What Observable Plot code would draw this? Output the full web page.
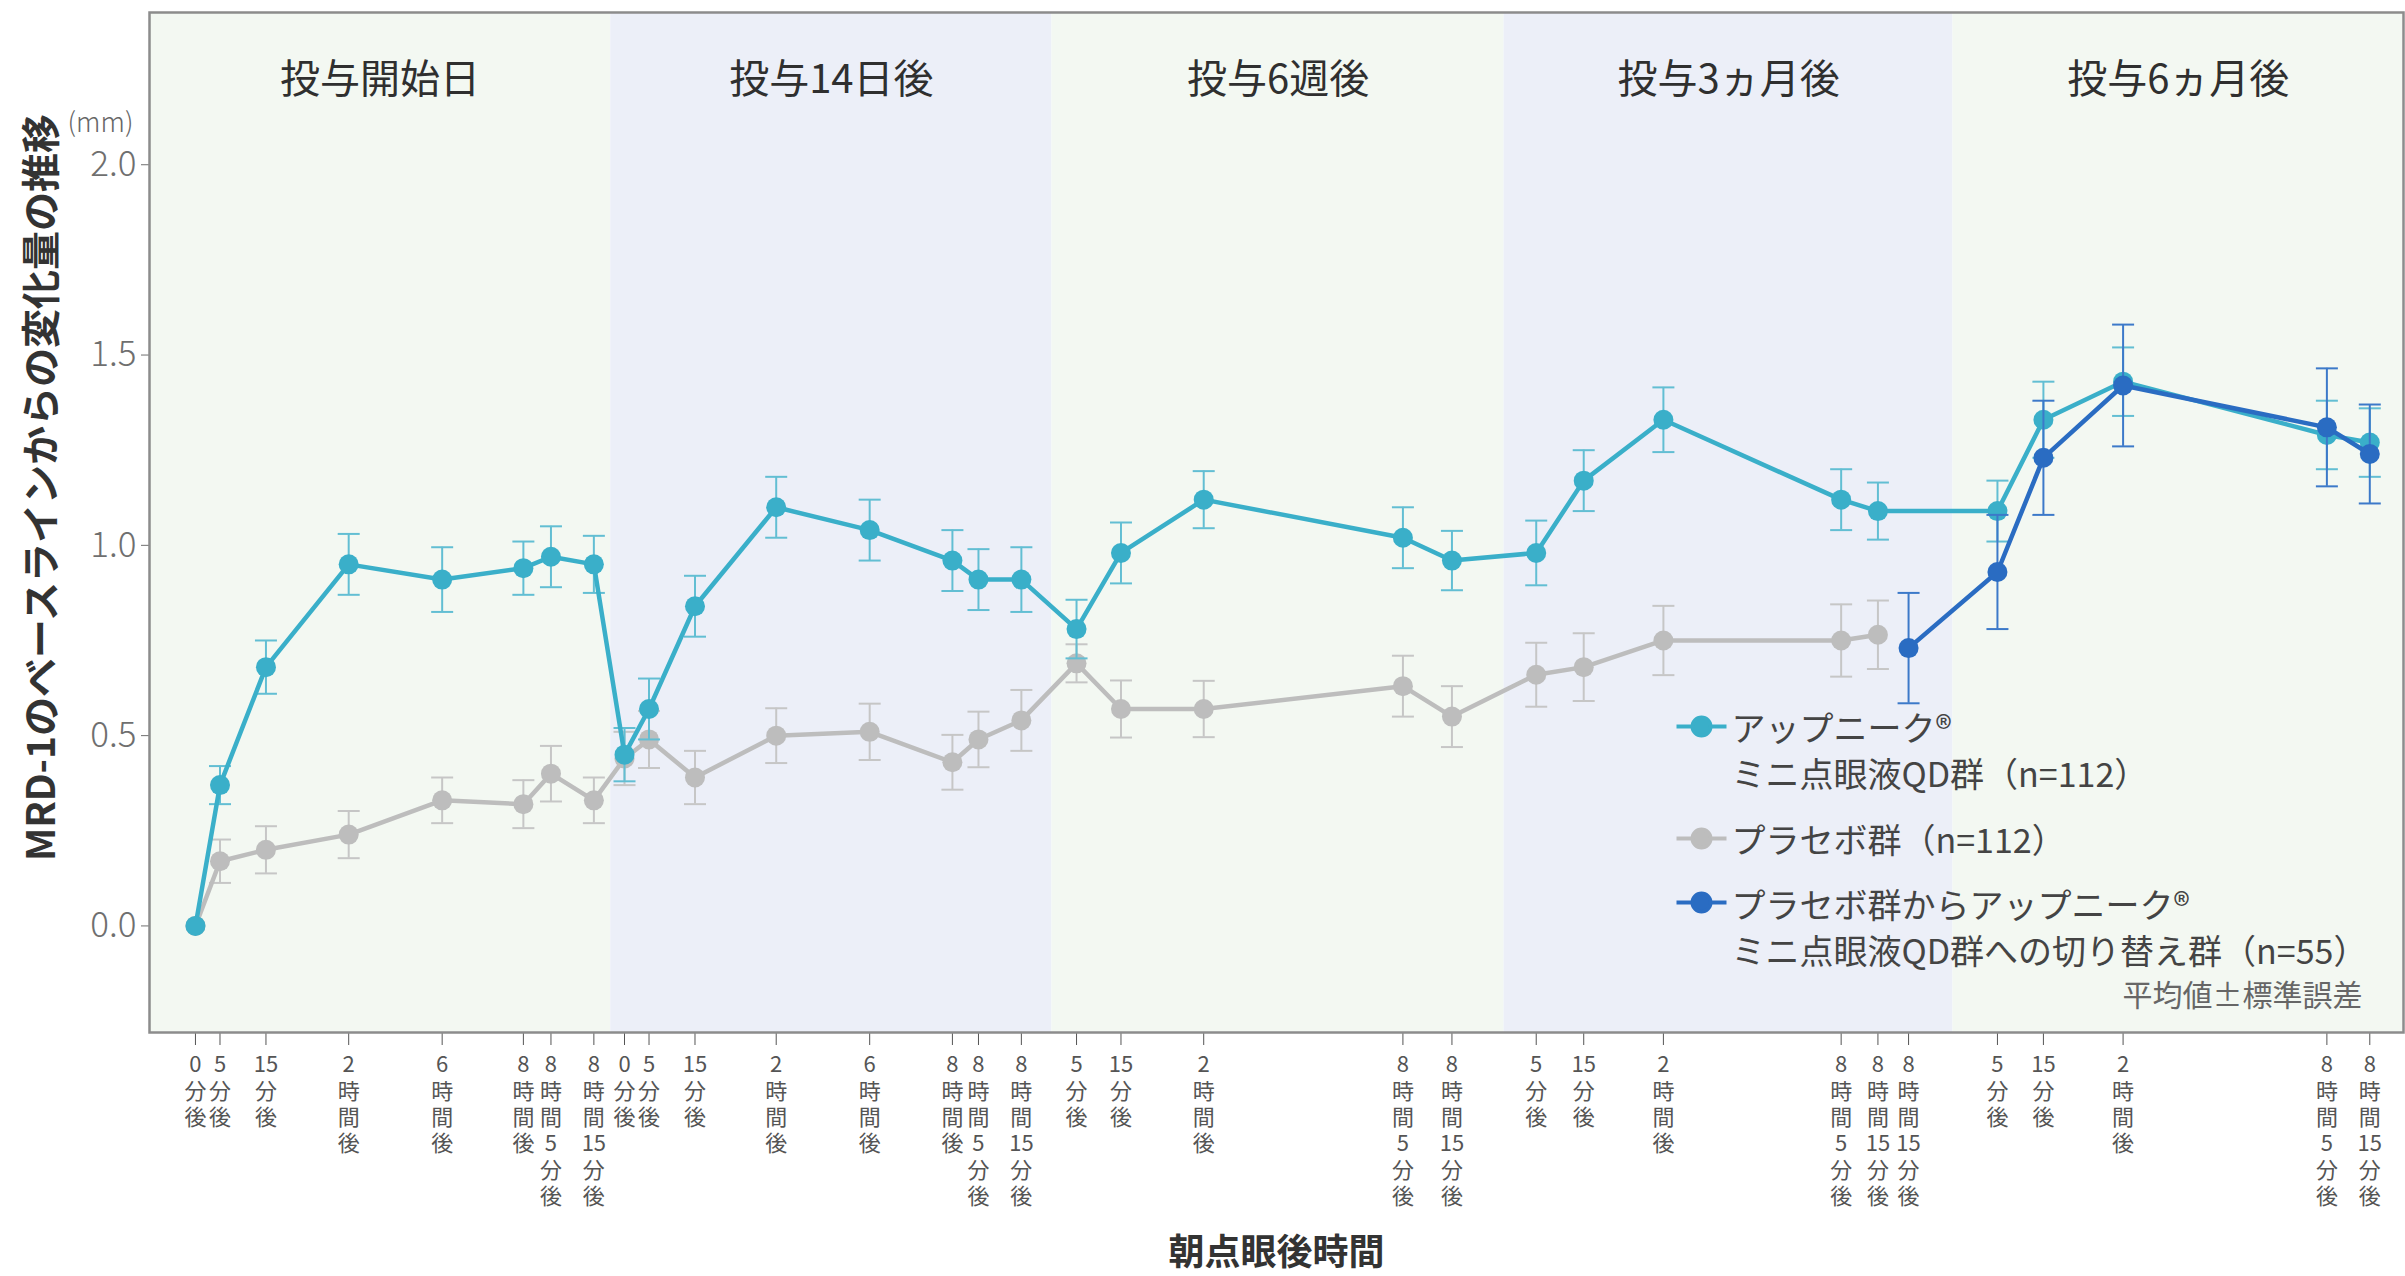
<!DOCTYPE html>
<html><head><meta charset="utf-8">
<script src="https://cdn.jsdelivr.net/npm/d3@7"></script>
<script src="https://cdn.jsdelivr.net/npm/@observablehq/plot@0.6"></script>
<style>
html,body{margin:0;padding:0;background:#fff;}
#chart svg{display:block;}
</style>
</head><body><div id="chart"></div>
<script>
// ---- phases (background bands) ----
const phaseNames = ["投与開始日", "投与14日後", "投与6週後", "投与3ヵ月後", "投与6ヵ月後"];
const phaseStart = [0, 301, 589, 884, 1177];
const phaseEnd   = [301, 589, 884, 1177, 1471];
const phaseFill  = ["#F3F8F2", "#ECEFF8", "#F3F8F2", "#ECEFF8", "#F3F8F2"];

// ---- x ticks (axis position along the time axis) ----
const tickSlots = [30, 46, 76, 130, 191, 244, 262, 290,
                   310, 326, 356, 409, 470, 524, 541, 569,
                   605, 634, 688, 818, 850,
                   905, 936, 988, 1104, 1128, 1148,
                   1206, 1236, 1288, 1421, 1449];
const tickLabels = ["0分後", "5分後", "15分後", "2時間後", "6時間後", "8時間後", "8時間5分後", "8時間15分後",
                    "0分後", "5分後", "15分後", "2時間後", "6時間後", "8時間後", "8時間5分後", "8時間15分後",
                    "5分後", "15分後", "2時間後", "8時間5分後", "8時間15分後",
                    "5分後", "15分後", "2時間後", "8時間5分後", "8時間15分後", "8時間15分後",
                    "5分後", "15分後", "2時間後", "8時間5分後", "8時間15分後"];

// ---- series: アップニーク ミニ点眼液QD群 ----
const activeSlots = [30, 46, 76, 130, 191, 244, 262, 290,
                     310, 326, 356, 409, 470, 524, 541, 569,
                     605, 634, 688, 818, 850,
                     905, 936, 988, 1104, 1128,
                     1206, 1236, 1288, 1421, 1449];
const activeMean = [0.00, 0.37, 0.68, 0.95, 0.91, 0.94, 0.97, 0.95,
                    0.45, 0.57, 0.84, 1.10, 1.04, 0.96, 0.91, 0.91,
                    0.78, 0.98, 1.12, 1.02, 0.96,
                    0.98, 1.17, 1.33, 1.12, 1.09,
                    1.09, 1.33, 1.43, 1.29, 1.27];
const activeSE = [0, 0.05, 0.07, 0.08, 0.085, 0.07, 0.08, 0.075,
                  0.07, 0.08, 0.08, 0.08, 0.08, 0.08, 0.08, 0.085,
                  0.077, 0.08, 0.075, 0.08, 0.078,
                  0.085, 0.08, 0.085, 0.08, 0.075,
                  0.08, 0.10, 0.09, 0.09, 0.09];

// ---- series: プラセボ群 ----
const placeboSlots = [30, 46, 76, 130, 191, 244, 262, 290,
                      310, 326, 356, 409, 470, 524, 541, 569,
                      605, 634, 688, 818, 850,
                      905, 936, 988, 1104, 1128];
const placeboMean = [0.00, 0.17, 0.20, 0.24, 0.33, 0.32, 0.40, 0.33,
                     0.44, 0.49, 0.39, 0.50, 0.51, 0.43, 0.49, 0.54,
                     0.69, 0.57, 0.57, 0.63, 0.55,
                     0.66, 0.68, 0.75, 0.75, 0.765];
const placeboSE = [0, 0.057, 0.062, 0.062, 0.06, 0.063, 0.073, 0.06,
                   0.07, 0.075, 0.07, 0.072, 0.074, 0.072, 0.073, 0.08,
                   0.05, 0.075, 0.074, 0.08, 0.08,
                   0.084, 0.089, 0.091, 0.095, 0.09];

// ---- series: プラセボ群からの切り替え群 ----
const switchSlots = [1148, 1206, 1236, 1288, 1421, 1449];
const switchMean  = [0.73, 0.93, 1.23, 1.42, 1.31, 1.24];
const switchSE    = [0.145, 0.15, 0.15, 0.16, 0.155, 0.13];

// ---- legend ----
const legendNames = ["アップニーク®\nミニ点眼液QD群（n=112）", "プラセボ群（n=112）", "プラセボ群からアップニーク®\nミニ点眼液QD群への切り替え群（n=55）"];
const yTicks = [0, 0.5, 1.0, 1.5, 2.0];

const COL = {
  active: "#3AAFC9", activeErr: "#62BED3",
  placebo: "#BDBDBD", placeboErr: "#C6C6C6",
  sw: "#2A6CC2", swErr: "#3C79C9"
};
const legendColors = [COL.active, COL.placebo, COL.sw];

const mk = (slots, mean, se) => slots.map((x, i) => ({x, y: mean[i], lo: mean[i] - se[i], hi: mean[i] + se[i], se: se[i]}));
const active = mk(activeSlots, activeMean, activeSE);
const placebo = mk(placeboSlots, placeboMean, placeboSE);
const sw = mk(switchSlots, switchMean, switchSE);
const phases = phaseNames.map((name, i) => ({name, x1: phaseStart[i], x2: phaseEnd[i], mid: (phaseStart[i] + phaseEnd[i]) / 2, fill: phaseFill[i]}));

const capSymbol = {draw(ctx, size) { const w = Math.sqrt(size / Math.PI); ctx.moveTo(-w, 0); ctx.lineTo(w, 0); }};
const legendSymbol = {draw(ctx, size) { ctx.moveTo(-25, 0); ctx.lineTo(-9, 0); ctx.moveTo(9, 0); ctx.lineTo(25, 0); ctx.moveTo(9, 0); ctx.arc(0, 0, 9, 0, 2 * Math.PI); }};

const stackLabel = (s) => (s.match(/\d+|./g) || []).join("\n");

function seriesMarks(data, line, err, lw) {
  const withErr = data.filter(d => d.se > 0);
  return [
    Plot.ruleX(withErr, {x: "x", y1: "lo", y2: "hi", stroke: err, strokeWidth: 2}),
    Plot.dot(withErr, {x: "x", y: "hi", symbol: capSymbol, r: 11, stroke: err, strokeWidth: 2, fill: "none"}),
    Plot.dot(withErr, {x: "x", y: "lo", symbol: capSymbol, r: 11, stroke: err, strokeWidth: 2, fill: "none"}),
    Plot.line(data, {x: "x", y: "y", stroke: line, strokeWidth: lw}),
    Plot.dot(data, {x: "x", y: "y", r: 10, fill: line})
  ];
}

// legend layout (offsets from the frame's top-left corner)
const legendMarkerDy = [714, 826, 890];
const legendTextDy = [737, 826, 914];
function legendMarks() {
  const out = [];
  legendNames.forEach((name, i) => {
    out.push(Plot.dot([name], {frameAnchor: "top-left", dx: 1552, dy: legendMarkerDy[i], symbol: legendSymbol, r: 10, fill: legendColors[i], stroke: legendColors[i], strokeWidth: 4}));
    out.push(Plot.text([name], {frameAnchor: "top-left", dx: 1582, dy: legendTextDy[i], textAnchor: "start", lineAnchor: "middle", lineHeight: 1.36, fontSize: 34, fill: "#444"}));
  });
  return out;
}

const chart = Plot.plot({
  width: 2405,
  height: 1276,
  marginLeft: 149,
  marginRight: 2,
  marginTop: 12,
  marginBottom: 244,
  style: {fontFamily: "'Noto Sans CJK JP', 'Noto Sans', sans-serif", background: "#fff"},
  x: {domain: [0, 1471]},
  y: {domain: [-0.28, 2.4]},
  marks: [
    Plot.rect(phases, {x1: "x1", x2: "x2", y1: -0.28, y2: 2.4, fill: "fill"}),
    Plot.text(phases, {x: "mid", frameAnchor: "top", dy: 68, text: "name", fontSize: 40, fill: "#2f2f2f", lineAnchor: "middle"}),
    Plot.axisY({ticks: yTicks, tickFormat: d3.format(".1f"), tickSize: 8, tickPadding: 5, fontSize: 35, fontWeight: 300, color: "#6f6f6f", label: null}),
    Plot.axisX({ticks: tickSlots, tickFormat: d => stackLabel(tickLabels[tickSlots.indexOf(d)]), tickSize: 13, tickPadding: 8, fontSize: 22, lineHeight: 1.2, color: "#555", label: null}),
    ...seriesMarks(placebo, COL.placebo, COL.placeboErr, 4.5),
    ...seriesMarks(active, COL.active, COL.activeErr, 4.5),
    ...seriesMarks(sw, COL.sw, COL.swErr, 4.5),
    Plot.frame({stroke: "#8c8c8c", strokeWidth: 2.5}),
    Plot.text(["(mm)"], {frameAnchor: "top-left", dx: -49, dy: 111, textAnchor: "middle", lineAnchor: "middle", fontSize: 27, fontWeight: 300, fill: "#666"}),
    Plot.text(["MRD-1のベースラインからの変化量の推移"], {frameAnchor: "left", dx: -107, dy: -35, rotate: -90, textAnchor: "middle", lineAnchor: "middle", fontSize: 39, fontWeight: "bold", fill: "#333"}),
    Plot.text(["朝点眼後時間"], {frameAnchor: "bottom", dy: 221, lineAnchor: "middle", fontSize: 36, fontWeight: "bold", fill: "#333"}),
    ...legendMarks(),
    Plot.text(["平均値±標準誤差"], {frameAnchor: "top-right", dx: -41, dy: 984, textAnchor: "end", lineAnchor: "middle", fontSize: 30, fill: "#666"})
  ]
});
document.getElementById("chart").appendChild(chart);
</script>
</body></html>
